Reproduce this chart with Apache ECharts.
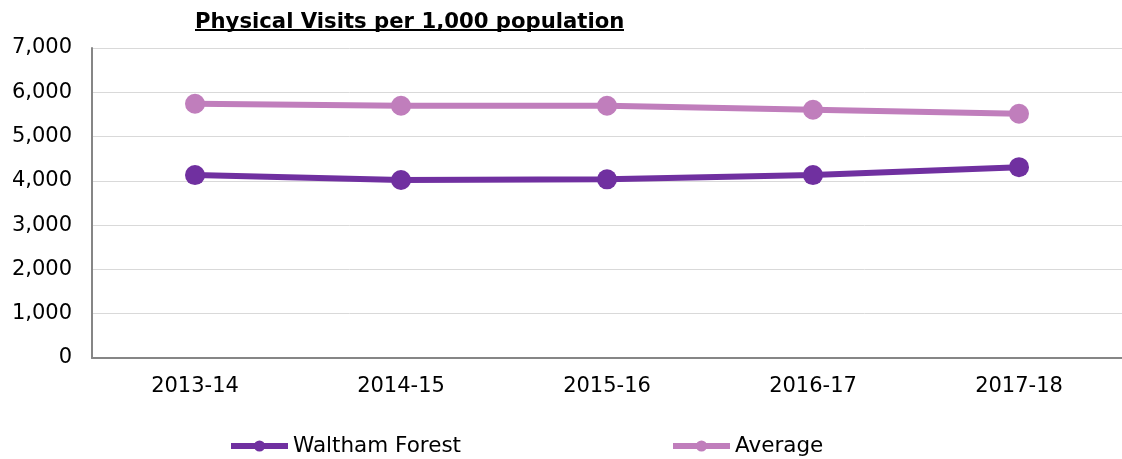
<!DOCTYPE html>
<html>
<head>
<meta charset="utf-8">
<script src="https://cdn.jsdelivr.net/npm/echarts@6/dist/echarts.min.js"></script>
<style>
html,body{margin:0;padding:0;background:#fff;}
#chart{width:1122px;height:459px;}
</style>
</head>
<body>
<div id="chart"></div>
<script>
const categories = ['2013-14', '2014-15', '2015-16', '2016-17', '2017-18'];
const walthamForest = [4130, 4020, 4035, 4130, 4310];
const average = [5740, 5695, 5695, 5605, 5515];
const yTicks = [0, 1000, 2000, 3000, 4000, 5000, 6000, 7000];
const titleText = 'Physical Visits per 1,000 population';

const chart = echarts.init(document.getElementById('chart'), null, {renderer: 'canvas'});
const font = 'DejaVu Sans, Verdana, sans-serif';
const legendCommon = {
  padding: 0,
  itemWidth: 57, itemHeight: 14, itemGap: 5,
  lineStyle: {width: 6},
  textStyle: {fontFamily: font, fontSize: 21.5, color: '#000'}
};
chart.setOption({
  animation: false,
  backgroundColor: '#fff',
  title: {
    text: titleText,
    left: 195, top: 12, padding: 0,
    textStyle: {fontFamily: font, fontWeight: 'bold', fontSize: 21.2, color: '#000'}
  },
  graphic: [{
    type: 'line', shape: {x1: 195, y1: 30, x2: 624, y2: 30},
    style: {stroke: '#000', lineWidth: 2}
  }],
  legend: [
    Object.assign({data: ['Waltham Forest'], left: 228, top: 435}, legendCommon),
    Object.assign({data: ['Average'], left: 670, top: 435}, legendCommon)
  ],
  grid: {left: 92, top: 48, width: 1041, bottom: 101, containLabel: false},
  xAxis: {
    type: 'category', data: categories, boundaryGap: true,
    axisLine: {lineStyle: {color: '#868686', width: 2}},
    axisTick: {show: false},
    axisLabel: {fontFamily: font, fontSize: 21, color: '#000', margin: 18}
  },
  yAxis: {
    type: 'value', min: yTicks[0], max: yTicks[yTicks.length - 1], interval: 1000,
    axisLine: {show: true, lineStyle: {color: '#868686', width: 2}},
    axisTick: {show: false},
    splitLine: {lineStyle: {color: '#d9d9d9', width: 1}},
    axisLabel: {fontFamily: font, fontSize: 21, color: '#000', margin: 20,
      formatter: v => v.toLocaleString('en-US')}
  },
  series: [{
    name: 'Waltham Forest', type: 'line', data: walthamForest,
    symbol: 'circle', symbolSize: 20,
    lineStyle: {color: '#7030A0', width: 6},
    itemStyle: {color: '#7030A0'}
  }, {
    name: 'Average', type: 'line', data: average,
    symbol: 'circle', symbolSize: 20,
    lineStyle: {color: '#C07EBC', width: 6},
    itemStyle: {color: '#C07EBC'}
  }]
});
</script>
</body>
</html>
